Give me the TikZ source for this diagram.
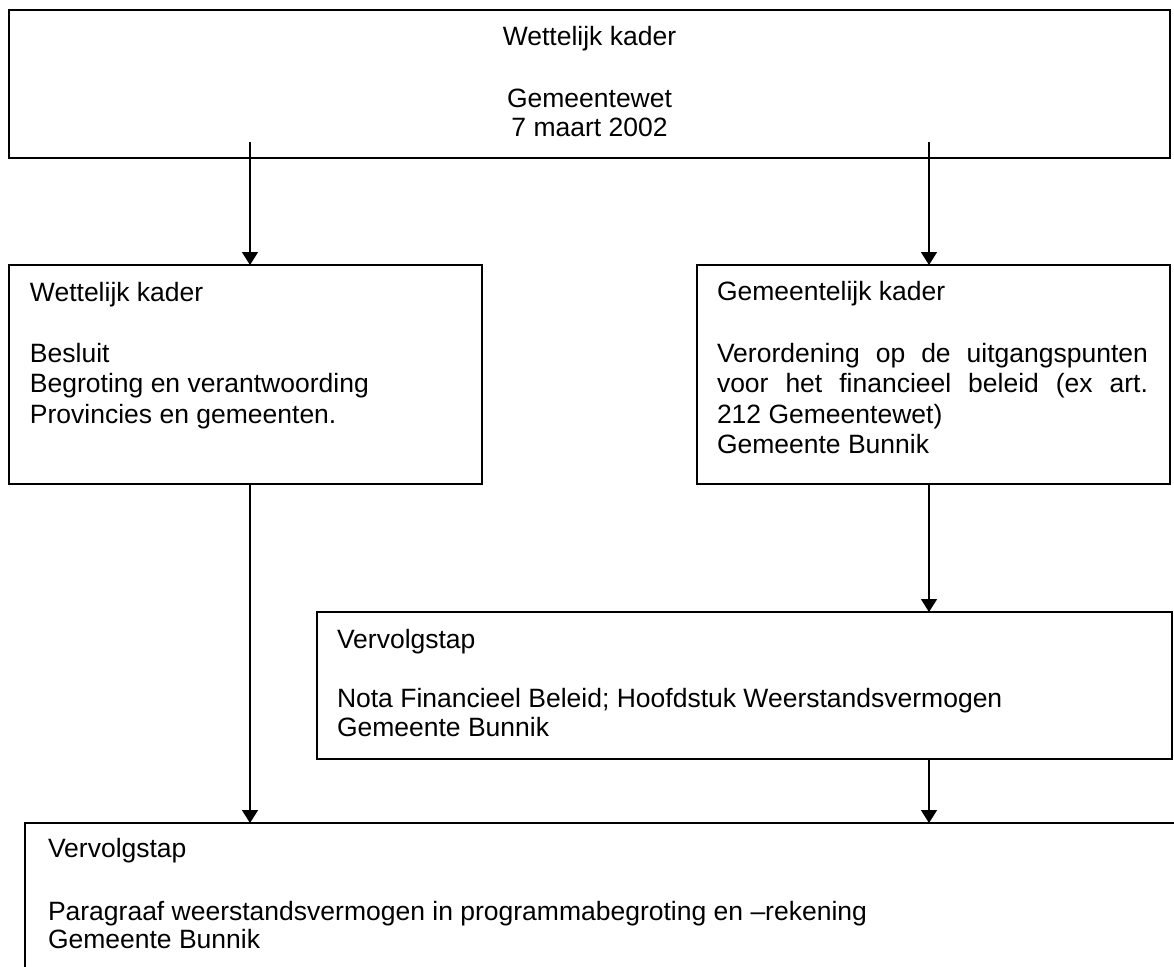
\documentclass[tikz,border=0pt]{standalone}
\usepackage{fontspec}
\setmainfont{Liberation Sans}
\usetikzlibrary{arrows.meta}
\begin{document}
\begin{tikzpicture}[x=0.5pt,y=-0.5pt,
  box/.style={draw=black,line width=0.75pt,inner sep=0pt,outer sep=0pt,anchor=north west},
  txt/.style={anchor=base west,inner sep=0pt,outer sep=0pt,font=\fontsize{13.25}{15.25}\selectfont},
  ctxt/.style={anchor=base,inner sep=0pt,outer sep=0pt,font=\fontsize{13.25}{15.25}\selectfont},
  arr/.style={line width=0.75pt,-{Triangle[length=6.5pt,width=8pt]}}]
\useasboundingbox (0,0) rectangle (1174,966);
\clip (0,0) rectangle (1174,966);
% boxes
\node[box,minimum width=580.5pt,minimum height=74pt] (top) at (9,10) {};
\node[box,minimum width=236.5pt,minimum height=109.5pt] (lbox) at (9,265) {};
\node[box,minimum width=236.5pt,minimum height=109.5pt] (rbox) at (697,265) {};
\node[box,minimum width=427.5pt,minimum height=73.5pt] (mbox) at (317,612) {};
\node[box,minimum width=587.5pt,minimum height=100pt] (bbox) at (25,823) {};
% top box text
\node[ctxt] (t1) at (589.5,45) {Wettelijk kader};
\node[ctxt] (t2) at (589.5,107) {Gemeentewet};
\node[ctxt] (t3) at (589.5,136) {7 maart 2002};
% left box text
\node[txt] (l1) at (30,301) {Wettelijk kader};
\node[txt] (l2) at (30,362) {Besluit};
\node[txt] (l3) at (30,392) {Begroting en verantwoording};
\node[txt] (l4) at (30,423) {Provincies en gemeenten.};
% right box text
\node[txt] (r1) at (717,300) {Gemeentelijk kader};
\node[txt] (r2) at (717,362) {\makebox[215.5pt][s]{Verordening op de uitgangspunten}};
\node[txt] (r3) at (717,392) {\makebox[215.5pt][s]{voor het financieel beleid (ex art.}};
\node[txt] (r4) at (717,423) {212 Gemeentewet)};
\node[txt] (r5) at (717,453) {Gemeente Bunnik};
% middle box text
\node[txt] (m1) at (337,648) {Vervolgstap};
\node[txt] (m2) at (337,707) {Nota Financieel Beleid; Hoofdstuk Weerstandsvermogen};
\node[txt] (m3) at (337,736) {Gemeente Bunnik};
% bottom box text
\node[txt] (b1) at (48,857) {Vervolgstap};
\node[txt] (b2) at (48,920) {Paragraaf weerstandsvermogen in programmabegroting en –rekening};
\node[txt] (b3) at (48,948) {Gemeente Bunnik};
% connectors
\coordinate (s1) at (250,142);
\coordinate (s2) at (929,142);
\draw[arr] (s1) -- (s1 |- lbox.north);
\draw[arr] (s2) -- (s2 |- rbox.north);
\draw[arr] (s1 |- lbox.south) -- (s1 |- bbox.north);
\draw[arr] (s2 |- rbox.south) -- (s2 |- mbox.north);
\draw[arr] (s2 |- mbox.south) -- (s2 |- bbox.north);
\end{tikzpicture}
\end{document}
